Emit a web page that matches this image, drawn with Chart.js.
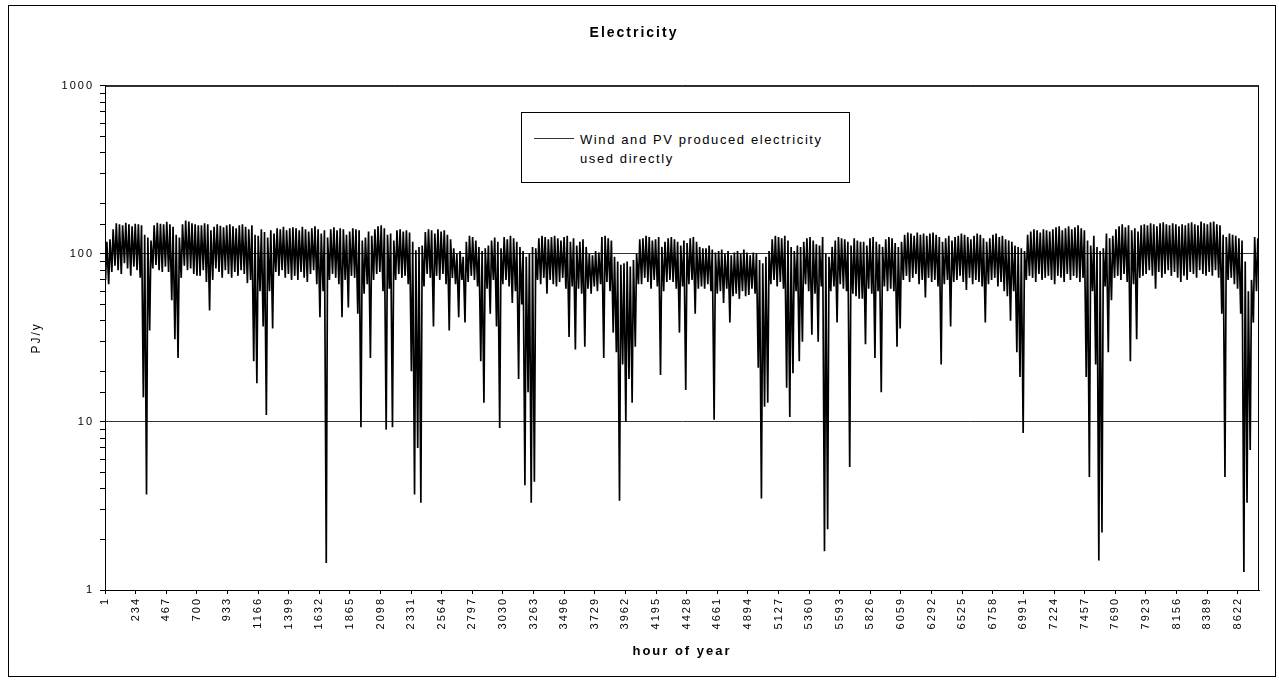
<!DOCTYPE html>
<html>
<head>
<meta charset="utf-8">
<script src="https://cdn.jsdelivr.net/npm/chart.js@4.4.1/dist/chart.umd.min.js"></script>
<style>
  body { margin: 0; background: #fff; }
  #frame { position: absolute; left: 8px; top: 5px; width: 1266px; height: 670px; border: 1px solid #000; }
  #legendBox { position: absolute; left: 512px; top: 106px; width: 327px; height: 69px; border: 1px solid #000; background: #fff;
    font-family: "Liberation Sans", Arial, sans-serif; font-size: 13px; letter-spacing: 1.6px; color: #000; }
  #legendBox .swatch { position: absolute; left: 12px; top: 25px; width: 40px; border-top: 1px solid #333; }
  #legendBox .txt { position: absolute; left: 58px; top: 17px; line-height: 19px; }
</style>
</head>
<body>
<div id="frame">
  <canvas id="myChart" width="1266" height="670"></canvas>
  <div id="legendBox"><div class="swatch"></div><div class="txt">Wind and PV produced electricity<br>used directly</div></div>
</div>
<script>
// hour-of-year tick labels (every 233 h)
const tickHours = [1, 234, 467, 700, 933, 1166, 1399, 1632, 1865, 2098, 2331, 2564, 2797, 3030, 3263,
  3496, 3729, 3962, 4195, 4428, 4661, 4894, 5127, 5360, 5593, 5826, 6059, 6292, 6525, 6758,
  6991, 7224, 7457, 7690, 7923, 8156, 8389, 8622];
const hoursInYear = 8784;
const yTicks = [1, 10, 100, 1000];

// daily peak of the directly used wind+PV electricity, PJ/y
const dayHigh = [
  118,122,140,152,150,148,153,150,146,151,  150,148,130,125,120,148,153,151,150,155,
  150,145,130,125,150,158,156,152,150,148,  148,152,150,138,145,150,147,144,148,150,
  146,142,148,150,145,140,148,130,128,140,  135,125,138,132,142,140,145,138,142,144,
  142,138,145,140,136,142,146,140,132,138,  125,140,144,138,142,140,130,136,142,140,
  138,120,125,136,128,140,146,148,142,130,  132,120,138,140,136,138,134,118,105,110,
  112,135,140,138,132,140,136,138,130,122,  108,100,104,96,118,128,126,120,110,104,
  108,112,120,125,118,108,126,122,128,124,  118,110,104,96,100,110,108,124,128,126,
  122,126,128,124,120,126,128,118,124,112,  118,122,110,100,98,104,102,126,128,124,
  120,96,90,86,88,90,84,92,100,122,         124,128,126,120,122,126,110,118,124,126,
  122,118,112,120,116,124,126,118,110,108,  108,112,106,102,104,106,100,104,98,102,
  104,100,106,102,98,102,100,92,88,96,      104,122,128,126,124,128,120,110,104,112,
  110,118,124,126,120,114,112,126,100,96,   110,120,126,124,122,118,112,124,120,118,
  118,112,124,126,118,114,110,122,126,124,  116,110,118,130,134,132,128,134,130,132,
  128,132,134,130,126,118,124,128,120,126,  128,132,130,126,122,128,132,130,124,118,
  124,130,132,126,128,122,120,118,112,110,  108,104,130,136,140,138,134,140,138,136,
  140,144,146,138,142,146,140,144,148,142,  138,120,112,128,110,104,108,132,124,128,
  140,146,150,144,148,138,142,136,148,150,  148,152,150,146,152,154,150,148,152,150,
  146,150,148,152,154,150,148,156,152,150,  154,156,150,148,130,126,132,130,128,124,
  120,90,60,70,126,124
];

// daily minimum, PJ/y (the deep dips are the calm, dark hours)
const dayLow = [
  70,66,78,85,80,76,88,82,74,84,            80,72,14,3.7,35,82,86,80,78,84,
  78,53,31,24,72,85,80,82,76,74,            74,80,68,46,70,82,78,72,80,76,
  72,78,74,80,76,67,70,23,17,60,            37,11,60,36,78,74,80,72,76,70,
  74,70,78,72,68,76,80,66,42,60,            1.45,70,76,72,66,42,70,48,74,72,
  44,9.3,58,66,24,70,76,78,60,9,            62,9.3,70,76,72,74,66,20,3.7,7,
  3.3,64,76,72,37,74,70,76,66,35,           72,66,42,70,39,68,74,70,64,23,
  13,62,44,70,37,9.2,66,70,64,51,           60,18,50,4.2,15,3.3,4.4,70,66,72,
  58,70,66,64,68,72,62,32,64,27,            62,58,28,62,58,64,60,66,24,68,
  60,34,26,3.4,22,10,18,13,28,66,           66,72,68,62,70,64,19,60,68,70,
  68,62,34,64,15.5,66,70,44,62,64,          62,66,60,10.3,58,60,51,62,39,56,
  58,54,60,56,57,62,58,21,3.5,12.3,         13,66,70,64,68,62,16,10.7,19.5,60,
  23,30,66,60,33,58,30,64,1.7,2.3,          60,64,39,66,62,60,5.4,58,56,54,
  54,29,62,58,24,60,15,64,60,62,            60,28,36,70,74,68,72,76,66,70,
  55,72,68,70,64,22,66,70,37,68,            70,74,68,61,72,66,70,68,64,39,
  66,70,72,64,68,60,56,40,60,26,            18.5,8.6,70,74,72,68,76,70,72,74,
  70,66,74,72,68,76,70,74,72,68,            72,18.5,4.7,60,22,1.5,2.2,64,26,53,
  72,74,70,76,68,23,66,31,72,74,            76,80,74,62,78,72,76,80,74,78,
  72,68,74,70,78,76,72,80,76,74,            78,74,80,72,44,4.7,70,72,66,62,
  44,1.28,3.3,6.8,39,60
];
const lowHourOfDay = 5, highHourOfDay = 15;

// build the hourly series: night minimum, then afternoon peak, each day
const points = [];
dayLow.forEach((lo, d) => {
  points.push({ x: d * 24 + lowHourOfDay, y: lo });
  points.push({ x: d * 24 + highHourOfDay, y: dayHigh[d] });
});

const FONT = "'Liberation Sans', Arial, sans-serif";

const spacing = {
  id: 'spacing',
  beforeUpdate(chart) { chart.ctx.letterSpacing = '2px'; },
  beforeDraw(chart) { chart.ctx.letterSpacing = '2px'; }
};
const plotFrame = {
  id: 'plotFrame',
  afterDraw(chart) {
    const a = chart.chartArea, ctx = chart.ctx;
    ctx.save();
    ctx.strokeStyle = '#000';
    ctx.lineWidth = 1;
    ctx.strokeRect(a.left + 0.5, a.top + 0.5, a.width - 1, a.height);
    ctx.restore();
  }
};

const config = {
  type: 'line',
  data: {
    datasets: [{
      label: 'Wind and PV produced electricity used directly',
      data: points,
      borderColor: '#000',
      borderWidth: 1.7,
      pointRadius: 0,
      tension: 0,
      fill: false
    }]
  },
  options: {
    responsive: false,
    animation: false,
    layout: { padding: { left: 0, right: 16, top: 0, bottom: 0 } },
    plugins: {
      legend: { display: false },
      tooltip: { enabled: false },
      title: {
        display: true,
        text: 'Electricity',
        color: '#000',
        font: { family: FONT, size: 14, weight: 'bold' },
        padding: { top: 19, bottom: 44 }
      }
    },
    scales: {
      x: {
        type: 'linear',
        min: 1,
        max: hoursInYear,
        afterBuildTicks: s => { s.ticks = tickHours.map(v => ({ value: v })); },
        afterFit: s => { s.height = 86; },
        ticks: {
          autoSkip: false,
          maxRotation: 90,
          minRotation: 90,
          padding: 3,
          color: '#000',
          font: { family: FONT, size: 11 },
          callback: v => String(v)
        },
        grid: { drawOnChartArea: false, tickLength: 4, color: '#000' },
        border: { color: '#000', width: 1 },
        title: {
          display: true,
          text: 'hour of year',
          color: '#000',
          font: { family: FONT, size: 13, weight: 'bold' },
          padding: { top: 0, bottom: 17 }
        }
      },
      y: {
        type: 'logarithmic',
        min: 1,
        max: 1000,
        afterFit: s => { s.width = 96; },
        ticks: {
          autoSkip: false,
          padding: 6,
          color: '#000',
          font: { family: FONT, size: 11 },
          callback: v => yTicks.includes(v) ? String(v) : ''
        },
        grid: {
          color: c => (c.tick && yTicks.includes(c.tick.value)) ? '#333' : 'rgba(0,0,0,0)',
          tickColor: '#000',
          tickLength: 5
        },
        border: { color: '#000', width: 1 },
        title: {
          display: true,
          text: 'PJ/y',
          color: '#000',
          font: { family: FONT, size: 12 },
          padding: { top: 20, bottom: 0 }
        }
      }
    }
  },
  plugins: [spacing, plotFrame]
};

var myChart = new Chart(document.getElementById('myChart'), config);
</script>
</body>
</html>
